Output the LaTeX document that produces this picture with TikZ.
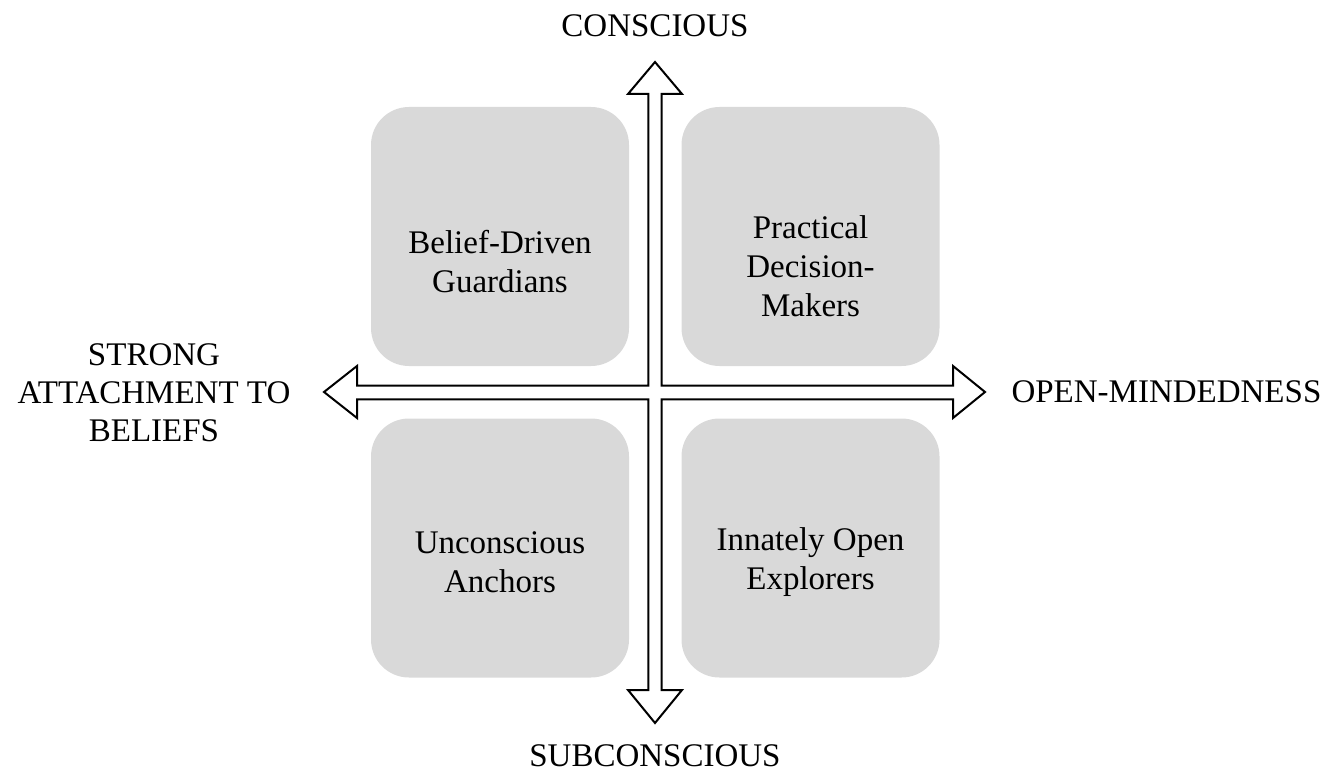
\documentclass[tikz,border=0pt]{standalone}
\usepackage{fontspec}
\setmainfont{Liberation Serif}
\begin{document}
\begin{tikzpicture}[x=1pt,y=-1pt,
  quad/.style={fill=quadgray,rounded corners=38pt,minimum width=258pt,minimum height=259pt,inner sep=0pt},
  quadtext/.style={align=center,font=\fontsize{33}{39}\selectfont},
  axislabel/.style={align=center,font=\fontsize{33}{38}\selectfont}]
\definecolor{quadgray}{HTML}{D9D9D9}
\useasboundingbox (0,0) rectangle (1335,778);

% quadrant boxes
\node[quad] (tl) at (500,236.5) {};
\node[quad] (tr) at (810.5,236.5) {};
\node[quad] (bl) at (500,548) {};
\node[quad] (br) at (810.5,548) {};

\node[quadtext] (tlt) at (500,262) {Belief-Driven\\Guardians};
\node[quadtext] (trt) at (810.5,266) {Practical\\Decision-\\Makers};
\node[quadtext] (blt) at (500,562) {Unconscious\\Anchors};
\node[quadtext] (brt) at (810.5,562) {Innately Open\\Explorers};

% four-way block arrow, drawn as one outline
\draw[line width=2pt,line join=miter,fill=white]
  (655,62) -- (682,94) -- (661.7,94) -- (661.7,385.7) -- (953,385.7)
  -- (953,366) -- (985,392) -- (953,418) -- (953,399.3) -- (661.7,399.3)
  -- (661.7,690) -- (682,690) -- (655,723) -- (628,690) -- (648.3,690)
  -- (648.3,399.3) -- (357,399.3) -- (357,418) -- (324,392) -- (357,366)
  -- (357,385.7) -- (648.3,385.7) -- (648.3,94) -- (628,94) -- cycle;

% axis labels
\node[axislabel] (top) at (655,26) {CONSCIOUS};
\node[axislabel] (bottom) at (655,756) {SUBCONSCIOUS};
\node[axislabel] (left) at (154,393) {STRONG\\ATTACHMENT TO\\BELIEFS};
\node[axislabel,anchor=west] (right) at (1008,392) {OPEN-MINDEDNESS};
\end{tikzpicture}
\end{document}
